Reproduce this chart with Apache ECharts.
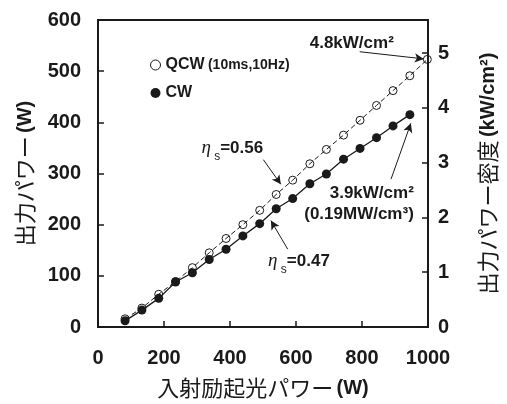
<!DOCTYPE html>
<html>
<head>
<meta charset="utf-8">
<script src="https://cdn.jsdelivr.net/npm/echarts@6/dist/echarts.min.js"></script>
<style>
  html, body { margin: 0; padding: 0; background: #fff; }
  #main { width: 507px; height: 404px; }
</style>
</head>
<body>
<div id="main"></div>
<script>
// データ (入射励起光パワー W -> 出力パワー W)
const pumpCW = [82, 133, 184, 235, 286, 337, 388, 439, 490, 540, 590, 642, 692, 744, 794, 844, 894, 945];
const outCW = [12, 33, 56, 88, 106, 132, 152, 178, 202, 231, 251, 280, 299, 328, 349, 370, 393, 415];
const pumpQCW = [82, 133, 184, 235, 286, 337, 388, 439, 490, 540, 590, 642, 692, 744, 794, 844, 894, 945, 998];
const outQCW = [16, 37, 64, 89, 116, 145, 173, 200, 228, 259, 287, 319, 347, 375, 404, 433, 462, 491, 523];

const xTicks = [0, 200, 400, 600, 800, 1000];
const densityTicks = [0, 1, 2, 3, 4, 5];
const wattPerDensity = 107.1; // 1 kW/cm2 = 約107 W

// 注釈 (データ座標)
const arrows = [
  [[793, 538], [987, 524]],   // 4.8kW/cm2
  [[501, 327], [554, 279]],   // eta 0.56
  [[575, 152], [524, 208]],   // eta 0.47
  [[888, 289], [948, 398]]    // 3.9kW/cm2
];
const notes = [
  { at: [769, 554], text: '{b|4.8kW/cm²}', align: 'center' },
  { at: [407, 350], text: '{eta|η}{sub| s}{b|=0.56}', align: 'center' },
  { at: [609, 129], text: '{eta|η}{sub| s}{b|=0.47}', align: 'center' },
  { at: [957, 240], text: '{b|3.9kW/cm²}\n{b|(0.19MW/cm³)}', align: 'right' }
];

const myChart = echarts.init(document.getElementById('main'));

const latin = 'Liberation Sans, Arial, sans-serif';
const cjk = 'Noto Sans CJK JP';
const ink = '#1a1a1a';

function pairs(xs, ys) {
  return xs.map((x, i) => [x, ys[i]]);
}

const noteRich = {
  b: { fontFamily: latin, fontWeight: 'bold', fontSize: 17, color: ink, lineHeight: 21 },
  eta: { fontFamily: 'Liberation Serif', fontStyle: 'italic', fontSize: 19, color: ink, lineHeight: 21 },
  sub: { fontFamily: latin, fontSize: 12, color: ink, lineHeight: 12, verticalAlign: 'bottom', padding: [0, 0, -4, 0] }
};

var option = {
  animation: false,
  grid: {
    left: 98, right: 74, top: 20, bottom: 72,
    show: true, borderColor: ink, borderWidth: 2
  },
  legend: {
    orient: 'vertical',
    left: 145, top: 51,
    itemWidth: 10, itemHeight: 10, itemGap: 10,
    selectedMode: false,
    data: [
      { name: 'QCW', icon: 'circle', itemStyle: { color: '#fff', borderColor: ink, borderWidth: 1 } },
      { name: 'CW', icon: 'circle', itemStyle: { color: ink } }
    ],
    formatter: name => name === 'QCW' ? '{a|QCW} {s|(10ms,10Hz)}' : '{a|CW}',
    textStyle: {
      lineHeight: 18,
      rich: {
        a: { fontFamily: latin, fontWeight: 'bold', fontSize: 16, color: ink, lineHeight: 18, verticalAlign: 'middle' },
        s: { fontFamily: latin, fontWeight: 'bold', fontSize: 14, color: ink, lineHeight: 18, verticalAlign: 'middle' }
      }
    }
  },
  xAxis: {
    type: 'value', min: 0, max: 1000, interval: 200,
    name: '{c|入射励起光パワー} {w|(W)}',
    nameLocation: 'middle', nameGap: 50,
    nameTextStyle: {
      rich: {
        c: { fontFamily: cjk, fontSize: 22, color: ink },
        w: { fontFamily: latin, fontWeight: 'bold', fontSize: 20, color: ink }
      }
    },
    axisLine: { lineStyle: { color: ink, width: 2 } },
    axisTick: { inside: true, length: 6, lineStyle: { color: ink, width: 1.5 }, customValues: xTicks },
    axisLabel: {
      margin: 21, fontFamily: latin, fontWeight: 'bold', fontSize: 20, color: ink,
      customValues: xTicks, formatter: v => String(v)
    },
    splitLine: { show: false }
  },
  yAxis: [
    {
      type: 'value', min: 0, max: 600, interval: 100,
      name: '{c|出力パワー} {w|(W)}',
      nameLocation: 'middle', nameGap: 62, nameRotate: 90,
      nameTextStyle: {
        rich: {
          c: { fontFamily: cjk, fontSize: 22, color: ink },
          w: { fontFamily: latin, fontWeight: 'bold', fontSize: 20, color: ink }
        }
      },
      axisLine: { show: true, lineStyle: { color: ink, width: 2 } },
      axisTick: { inside: true, length: 6, lineStyle: { color: ink, width: 1.5 } },
      axisLabel: { margin: 17, fontFamily: latin, fontWeight: 'bold', fontSize: 20, color: ink },
      splitLine: { show: false }
    },
    {
      type: 'value', min: 0, max: 600 / wattPerDensity,
      position: 'right',
      name: '{c|出力パワー密度} {w|(kW/cm²)}',
      nameLocation: 'middle', nameGap: 49, nameRotate: 90,
      nameTextStyle: {
        rich: {
          c: { fontFamily: cjk, fontSize: 22, color: ink },
          w: { fontFamily: latin, fontWeight: 'bold', fontSize: 20, color: ink }
        }
      },
      axisLine: { show: true, lineStyle: { color: ink, width: 2 } },
      axisTick: { inside: true, length: 6, lineStyle: { color: ink, width: 1.5 }, customValues: densityTicks },
      axisLabel: { margin: 10, fontFamily: latin, fontWeight: 'bold', fontSize: 20, color: ink, customValues: densityTicks },
      splitLine: { show: false }
    }
  ],
  series: [
    {
      name: 'QCW',
      type: 'line',
      data: pairs(pumpQCW, outQCW),
      symbol: 'circle', symbolSize: 8,
      itemStyle: { color: 'rgba(255,255,255,0)', borderColor: ink, borderWidth: 1 },
      lineStyle: { color: ink, width: 1, type: [5, 3] },
      z: 2
    },
    {
      name: 'CW',
      type: 'line',
      data: pairs(pumpCW, outCW),
      symbol: 'circle', symbolSize: 9,
      itemStyle: { color: ink },
      lineStyle: { color: ink, width: 1.3 },
      z: 3,
      markLine: {
        silent: true,
        symbol: ['none', 'arrow'],
        symbolSize: [7, 9],
        label: { show: false },
        lineStyle: { color: ink, width: 1, type: 'solid' },
        data: arrows.map(a => [{ coord: a[0] }, { coord: a[1] }])
      },
      markPoint: {
        silent: true,
        symbol: 'circle', symbolSize: 1,
        itemStyle: { color: 'rgba(0,0,0,0)' },
        data: notes.map(n => ({
          coord: n.at,
          label: {
            show: true, position: 'inside', align: n.align,
            formatter: n.text, rich: noteRich
          }
        }))
      }
    }
  ]
};

myChart.setOption(option);
</script>
</body>
</html>
